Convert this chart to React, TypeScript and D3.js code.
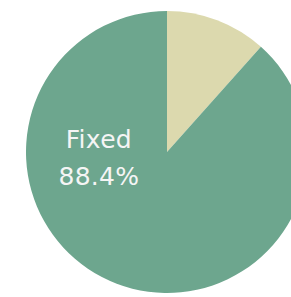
import React from 'react'
import * as d3 from 'd3'

const categories = ['Other', 'Fixed']
const shares = [11.6, 88.4]
const colors = ['#dcd9ae', '#6da68e']
const labelled = ['Fixed']

const width = 291
const height = 297

export default function App() {
  const cx = 167
  const cy = 152
  const radius = 141

  const pie = d3.pie<number>().sort(null).value(d => d)
  const arcs = pie(shares)
  const arc = d3.arc<d3.PieArcDatum<number>>().innerRadius(0).outerRadius(radius)

  return (
    <svg
      width={width}
      height={height}
      style={{ position: 'absolute', left: 0, top: 0 }}
    >
      <g transform={`translate(${cx},${cy})`}>
        {arcs.map((a, i) => (
          <path key={categories[i]} d={arc(a) || ''} fill={colors[i]} />
        ))}
        {arcs.map((a, i) => {
          if (!labelled.includes(categories[i])) return null
          const lx = -radius * 0.483
          return (
            <text
              key={'l' + i}
              x={lx}
              textAnchor="middle"
              fill="#f5f5f5"
              style={{ fontFamily: 'DejaVu Sans, Verdana, sans-serif', fontSize: 25, letterSpacing: 0.3 }}
            >
              <tspan x={lx} y={-4}>{categories[i]}</tspan>
              <tspan x={lx} y={33}>{a.data.toFixed(1)}%</tspan>
            </text>
          )
        })}
      </g>
    </svg>
  )
}
